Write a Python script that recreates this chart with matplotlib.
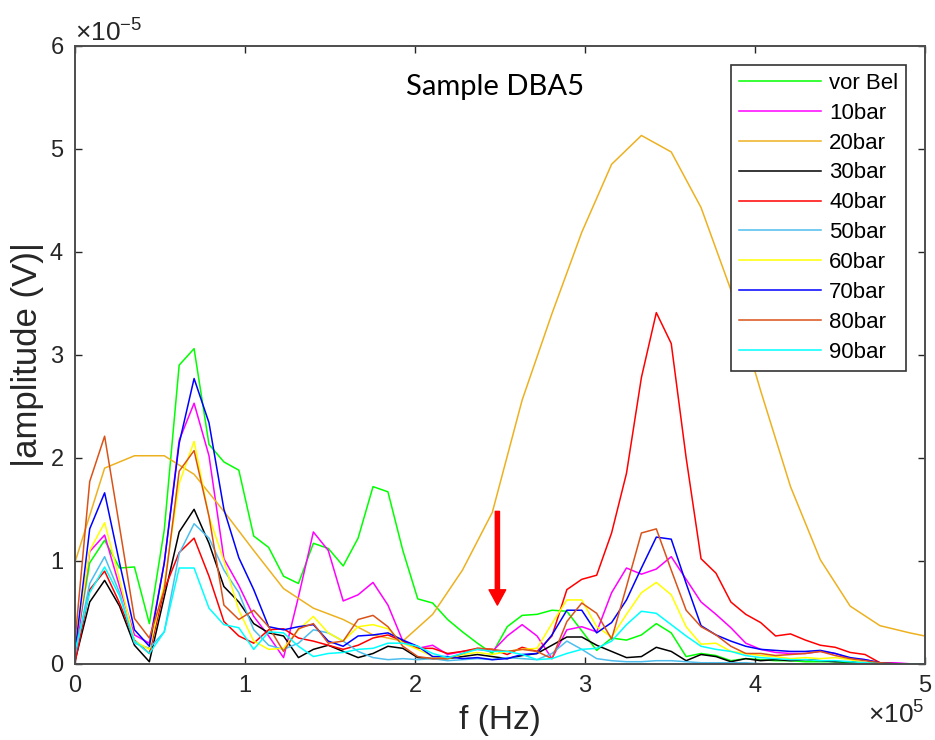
import numpy as np
import matplotlib
matplotlib.use('Agg')
import matplotlib.pyplot as plt
from matplotlib.ticker import ScalarFormatter

plt.rcParams['font.family'] = ['Liberation Sans', 'DejaVu Sans']
plt.rcParams['mathtext.fontset'] = 'custom'
plt.rcParams['mathtext.rm'] = 'Liberation Sans'

# Frequenzraster (58 Punkte bis 500 kHz), 20bar nur jeder zweite Punkt
n_pts = 58
df = 5e5 / 57
SCALE = 1e-5

labels = ['vor Bel', '10bar', '20bar', '30bar', '40bar',
          '50bar', '60bar', '70bar', '80bar', '90bar']
colors = ['#00FF00', '#FF00FF', '#EDB120', '#000000', '#FF0000',
          '#4DBEEE', '#FFFF00', '#0000FF', '#D95319', '#00FFFF']

# Werte in 1e-5 V
vor_bel = [0.10, 0.98, 1.20, 0.93, 0.94, 0.39, 1.30, 2.90, 3.06, 2.13,
           1.96, 1.88, 1.24, 1.13, 0.85, 0.78, 1.17, 1.12, 0.95, 1.22,
           1.72, 1.67, 1.10, 0.63, 0.59, 0.43, 0.31, 0.20, 0.10, 0.36,
           0.47, 0.48, 0.52, 0.51, 0.32, 0.13, 0.25, 0.23, 0.28, 0.39,
           0.30, 0.07, 0.10, 0.08, 0.03, 0.05, 0.04, 0.03, 0.03, 0.02,
           0.02, 0.02, 0.01, 0.01, 0.00, 0.00, 0.00, 0.00]
bar10 = [0.04, 1.09, 1.25, 0.75, 0.28, 0.20, 0.98, 2.17, 2.53, 2.02,
         1.02, 0.76, 0.46, 0.27, 0.06, 0.65, 1.28, 1.10, 0.61, 0.67,
         0.79, 0.57, 0.22, 0.15, 0.18, 0.09, 0.12, 0.14, 0.12, 0.27,
         0.38, 0.27, 0.05, 0.33, 0.36, 0.31, 0.69, 0.93, 0.87, 0.92,
         1.04, 0.82, 0.60, 0.48, 0.35, 0.20, 0.14, 0.11, 0.10, 0.10,
         0.12, 0.10, 0.05, 0.04, 0.01, 0.01, 0.00, 0.00]
bar20 = [0.98, 1.90, 2.02, 2.02, 1.84, 1.48, 1.10, 0.73, 0.54, 0.43,
         0.28, 0.22, 0.48, 0.91, 1.47, 2.56, 3.40, 4.19, 4.85, 5.13,
         4.97, 4.43, 3.63, 2.65, 1.72, 1.01, 0.56, 0.37, 0.30, 0.24]
bar30 = [0.02, 0.60, 0.81, 0.56, 0.18, 0.02, 0.65, 1.28, 1.50, 1.17,
         0.75, 0.60, 0.39, 0.30, 0.27, 0.06, 0.14, 0.18, 0.12, 0.06,
         0.10, 0.17, 0.15, 0.06, 0.05, 0.05, 0.07, 0.09, 0.07, 0.05,
         0.08, 0.10, 0.18, 0.26, 0.26, 0.18, 0.12, 0.06, 0.07, 0.16,
         0.12, 0.03, 0.09, 0.07, 0.02, 0.05, 0.03, 0.04, 0.03, 0.04,
         0.03, 0.02, 0.02, 0.01, 0.00, 0.00, 0.00, 0.00]
bar40 = [0.00, 0.72, 0.90, 0.59, 0.23, 0.10, 0.72, 1.08, 1.22, 0.85,
         0.41, 0.27, 0.20, 0.33, 0.34, 0.25, 0.22, 0.18, 0.14, 0.18,
         0.25, 0.28, 0.22, 0.15, 0.15, 0.10, 0.12, 0.15, 0.14, 0.09,
         0.16, 0.12, 0.27, 0.72, 0.82, 0.86, 1.27, 1.85, 2.78, 3.41,
         3.11, 2.00, 1.02, 0.88, 0.60, 0.48, 0.40, 0.27, 0.29, 0.23,
         0.18, 0.16, 0.11, 0.09, 0.01, 0.00, 0.00, 0.00]
bar50 = [0.07, 0.78, 1.04, 0.69, 0.20, 0.15, 0.31, 1.07, 1.36, 1.22,
         0.91, 0.69, 0.33, 0.18, 0.14, 0.20, 0.33, 0.30, 0.22, 0.12,
         0.06, 0.04, 0.05, 0.04, 0.05, 0.03, 0.04, 0.05, 0.04, 0.06,
         0.05, 0.04, 0.10, 0.22, 0.14, 0.05, 0.03, 0.02, 0.02, 0.03,
         0.03, 0.02, 0.01, 0.01, 0.01, 0.01, 0.00, 0.00, 0.00, 0.00,
         0.00, 0.00, 0.00, 0.00, 0.00, 0.00, 0.00, 0.00]
bar60 = [0.13, 1.10, 1.37, 0.82, 0.22, 0.14, 0.78, 1.75, 2.16, 1.43,
         1.00, 0.52, 0.22, 0.14, 0.15, 0.33, 0.46, 0.30, 0.22, 0.36,
         0.38, 0.34, 0.20, 0.14, 0.07, 0.05, 0.09, 0.11, 0.09, 0.12,
         0.14, 0.15, 0.39, 0.62, 0.62, 0.36, 0.26, 0.48, 0.69, 0.79,
         0.67, 0.36, 0.19, 0.20, 0.12, 0.10, 0.08, 0.07, 0.05, 0.06,
         0.05, 0.06, 0.04, 0.01, 0.00, 0.00, 0.00, 0.00]
bar70 = [0.10, 1.31, 1.66, 0.98, 0.33, 0.17, 0.98, 2.14, 2.77, 2.34,
         1.50, 1.03, 0.72, 0.36, 0.33, 0.36, 0.38, 0.22, 0.17, 0.27,
         0.28, 0.30, 0.23, 0.17, 0.07, 0.07, 0.05, 0.06, 0.04, 0.05,
         0.09, 0.10, 0.28, 0.52, 0.52, 0.30, 0.40, 0.62, 0.93, 1.23,
         1.21, 0.78, 0.37, 0.28, 0.22, 0.17, 0.14, 0.13, 0.12, 0.12,
         0.13, 0.10, 0.06, 0.04, 0.01, 0.00, 0.00, 0.00]
bar80 = [0.20, 1.77, 2.21, 1.33, 0.44, 0.25, 0.72, 1.87, 2.07, 1.43,
         0.57, 0.43, 0.52, 0.36, 0.12, 0.34, 0.39, 0.20, 0.22, 0.43,
         0.47, 0.36, 0.17, 0.07, 0.05, 0.05, 0.10, 0.15, 0.14, 0.12,
         0.14, 0.12, 0.05, 0.41, 0.59, 0.49, 0.24, 0.75, 1.27, 1.31,
         0.91, 0.52, 0.36, 0.28, 0.17, 0.10, 0.10, 0.08, 0.09, 0.10,
         0.12, 0.08, 0.05, 0.03, 0.01, 0.00, 0.00, 0.00]
bar90 = [0.12, 0.69, 0.94, 0.66, 0.22, 0.10, 0.31, 0.93, 0.93, 0.54,
         0.38, 0.35, 0.14, 0.31, 0.30, 0.17, 0.07, 0.10, 0.11, 0.14,
         0.15, 0.20, 0.20, 0.17, 0.10, 0.06, 0.10, 0.14, 0.12, 0.12,
         0.09, 0.04, 0.05, 0.10, 0.14, 0.15, 0.22, 0.38, 0.51, 0.49,
         0.38, 0.27, 0.17, 0.14, 0.12, 0.08, 0.06, 0.05, 0.04, 0.04,
         0.03, 0.03, 0.02, 0.01, 0.00, 0.00, 0.00, 0.00]

series = [vor_bel, bar10, bar20, bar30, bar40, bar50, bar60, bar70, bar80, bar90]

freq = np.arange(n_pts) * df
freq20 = np.arange(len(bar20)) * 2 * df

fig = plt.figure(figsize=(9.35, 7.4), dpi=100)
ax = fig.add_axes([0.080, 0.103, 0.909, 0.835])

for lab, col, vals in zip(labels, colors, series):
    x = freq20 if lab == '20bar' else freq
    ax.plot(x, np.array(vals) * SCALE, color=col, lw=1.1, label=lab)

ax.set_xlim(0, 5e5)
ax.set_ylim(0, 6e-5)
ax.set_xticks(np.arange(0, 5.01e5, 1e5))
ax.set_yticks(np.arange(0, 6.01e-5, 1e-5))

for axis in (ax.xaxis, ax.yaxis):
    fmt = ScalarFormatter(useMathText=True)
    fmt.set_powerlimits((0, 0))
    axis.set_major_formatter(fmt)

dark = '#262626'
ax.tick_params(direction='in', top=True, right=True, length=5, width=1,
               colors=dark, labelsize=17, pad=8)
for s in ax.spines.values():
    s.set_color('#4d4d4d')
    s.set_linewidth(1.4)
for ot in (ax.xaxis.get_offset_text(), ax.yaxis.get_offset_text()):
    ot.set_fontsize(19)
    ot.set_color(dark)

ax.set_xlabel('f (Hz)', fontsize=24, color=dark, labelpad=6)
ax.set_ylabel('|amplitude (V)|', fontsize=25, color=dark, labelpad=4)

ax.text(2.47e5, 5.6e-5, 'Sample DBA5', fontsize=21, family='Lato',
        ha='center', va='center', color='black')

# roter Pfeil
ax.annotate('', xy=(2.486e5, 0.57e-5), xytext=(2.486e5, 1.48e-5),
            arrowprops=dict(color='#FF0000', width=3, headwidth=12,
                            headlength=11, shrink=0))

leg = ax.legend(loc='upper right', bbox_to_anchor=(906 / 935, 675 / 740),
                bbox_transform=fig.transFigure, fontsize=16, frameon=True,
                fancybox=False, framealpha=1, borderaxespad=0,
                handlelength=3.7, handletextpad=0.35, labelspacing=0.4,
                borderpad=0.35)
leg.get_frame().set_edgecolor('#333333')
leg.get_frame().set_linewidth(1.2)

fig.savefig('out.png', dpi=100)
